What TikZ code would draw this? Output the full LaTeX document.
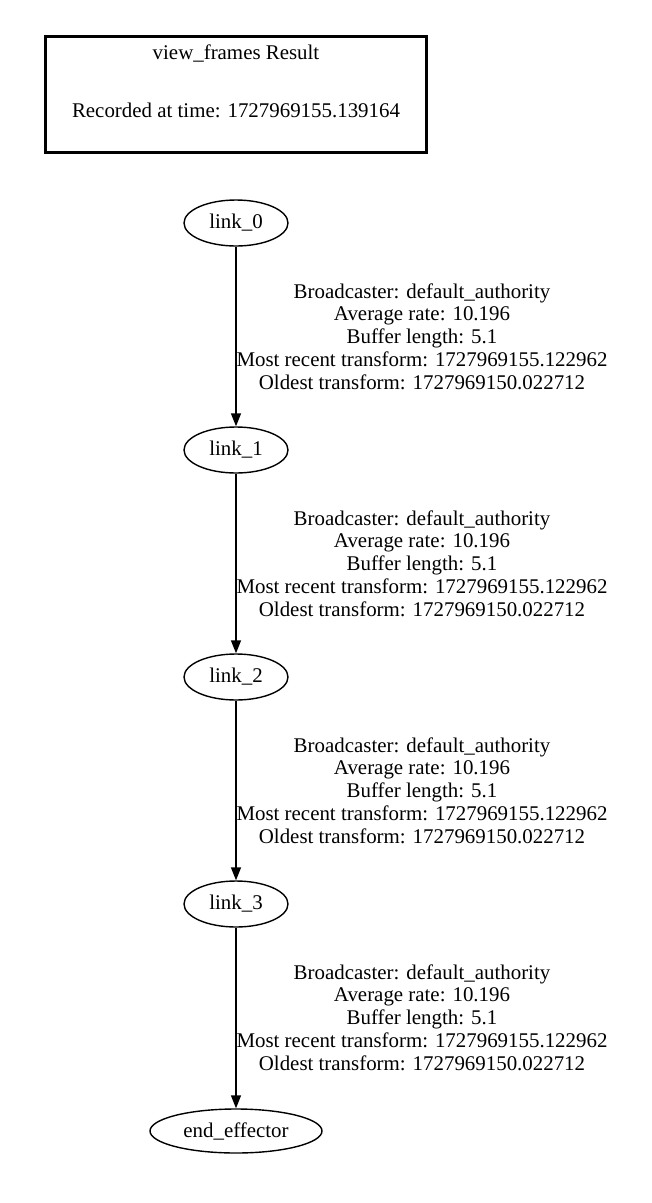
\documentclass[tikz,border=0pt]{standalone}
\usepackage{fontspec}
\setmainfont{Liberation Serif}
\usetikzlibrary{arrows.meta,shapes.geometric}
\begin{document}
\begin{tikzpicture}[x=1pt,y=-1pt,
  txt/.style={font=\fontsize{20.9}{22.75}\selectfont, inner sep=0pt, align=center},
  frame/.style={draw, ellipse, line width=1.4pt, minimum width=104pt, minimum height=46pt, inner sep=0pt, font=\fontsize{20.9}{22.75}\selectfont},
  edge/.style={line width=1.4pt, -{Triangle[length=13pt,width=10pt]}},
  titlebox/.style={draw, line width=3pt, minimum width=381pt, minimum height=116pt, inner sep=0pt}]
\useasboundingbox (0,0) rectangle (652,1203);
\node[titlebox] (title) at (235.5,94) {};
\node[txt] (t1) at (236,53) {view\_frames Result};
\node[txt] (t2) at (236,110) {Recorded at time: 1727969155.139164};
\node[frame] (l0) at (236,223) {link\_0};
\node[frame] (l1) at (236,450) {link\_1};
\node[frame] (l2) at (236,677) {link\_2};
\node[frame] (l3) at (236,904) {link\_3};
\node[frame, minimum width=172pt, minimum height=44pt] (ee) at (236,1131) {end\_effector};
\draw[edge] (l0) -- (l1);
\draw[edge] (l1) -- (l2);
\draw[edge] (l2) -- (l3);
\draw[edge] (l3) -- (ee);
\foreach \n/\y in {a/336.5, b/563.5, c/790.5, d/1017.5}{
  \node[txt] (lab\n) at (422,\y) {Broadcaster: default\_authority\\Average rate: 10.196\\Buffer length: 5.1\\Most recent transform: 1727969155.122962\\Oldest transform: 1727969150.022712};
}
\end{tikzpicture}
\end{document}
